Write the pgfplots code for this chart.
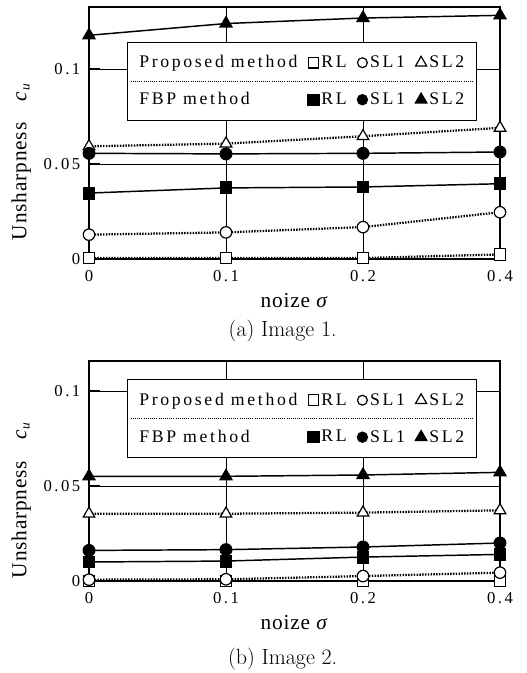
\documentclass[border=0pt]{standalone}
\usepackage{fontspec}
\usepackage{pgfplots}
\pgfplotsset{compat=1.18}
\newfontfamily\tms[LetterSpace=15]{Liberation Serif}
\newfontfamily\tmsl[LetterSpace=4]{Liberation Serif}
\newcommand\tickfont{\tms\fontsize{12.5}{15}\selectfont}
\newcommand\legfont{\tms\fontsize{13.3}{16}\selectfont}
\newcommand\labfont{\tmsl\fontsize{16}{18}\selectfont}

% x positions 0,1,2,3 stand for sigma = 0, 0.1, 0.2, 0.4
\pgfplotstableread{
x  PRL     PSL1    PSL2    FRL     FSL1    FSL2
0  0.0005  0.0128  0.0593  0.0347  0.0556  0.1177
1  0.0005  0.0140  0.0607  0.0374  0.0553  0.1239
2  0.0005  0.0168  0.0646  0.0379  0.0556  0.1268
3  0.0024  0.0246  0.0690  0.0396  0.0563  0.1282
}\dataA
\pgfplotstableread{
x  PRL     PSL1    PSL2    FRL     FSL1    FSL2
0  0.0000  0.0007  0.0354  0.0100  0.0161  0.0551
1  0.0000  0.0009  0.0354  0.0105  0.0165  0.0551
2  0.0000  0.0026  0.0360  0.0126  0.0179  0.0558
3  0.0000  0.0044  0.0372  0.0140  0.0200  0.0572
}\dataB

\pgfplotsset{
  myaxis/.style={
    scale only axis,
    width=308.25pt,
    xmin=0, xmax=3,
    ymin=0,
    xtick={0,1,2,3},
    xticklabels={0,0.1,0.2,0.4},
    ytick={0,0.05,0.1},
    yticklabels={0,0.05,0.1},
    /pgf/number format/assume math mode=true,
    grid=major,
    grid style={black, line width=0.6pt},
    axis line style={line width=1.3pt},
    xtick style={draw=none},
    ytick pos=left,
    ytick style={line width=1.2pt, black},
    major tick length=8pt,
    tick label style={font=\tickfont},
    xticklabel style={yshift=-5pt},
    yticklabel style={xshift=-3pt},
    label style={font=\labfont},
    xlabel={noize \textit{σ}},
    xlabel style={yshift=-2pt},
    ylabel={Unsharpness\hspace{16pt}\textit{c}\raisebox{-0.35ex}{\fontsize{10}{11}\selectfont\textit{u}}},
    clip=false,
    legend columns=4,
    legend cell align=left,
    legend style={font=\legfont, draw=black, line width=0.7pt, fill=white,
      inner xsep=7pt, inner ysep=8pt, row sep=13pt,
      /tikz/every even column/.append style={column sep=6pt}},
    every axis plot/.append style={black, line width=1.1pt},
    P/.style={densely dotted, line width=1.7pt, mark options={solid, fill=white, line width=0.9pt}},
    F/.style={solid, mark options={solid, fill=black}},
    mSq/.style={mark=square*, mark size=4.3pt},
    mCi/.style={mark=*, mark size=4.3pt},
    mTr/.style={mark=triangle*, mark size=5pt},
    lo/.style={only marks, mark options={fill=white, line width=0.9pt},
      legend image code/.code={\draw[##1] plot coordinates {(0.15cm,0cm)};}},
    lf/.style={only marks, mark options={fill=black},
      legend image code/.code={\draw[##1] plot coordinates {(0.15cm,0cm)};}},
  },
}

\begin{document}
\begin{tikzpicture}
\useasboundingbox (0pt,0pt) rectangle (394.5pt,-504.75pt);

% ---------------- (a) ----------------
\begin{axis}[myaxis,
  at={(66.75pt,-194.25pt)}, anchor=south west,
  height=189pt, ymax=0.1326,
  ylabel style={at={(axis description cs:-0.165,0.385)}, anchor=center},
  legend style={at={(axis description cs:0.092,0.862)}, anchor=north west, name=legA},
]
\addplot[P, mSq, forget plot] table[x=x,y=PRL]{\dataA};
\addplot[P, mCi, forget plot] table[x=x,y=PSL1]{\dataA};
\addplot[P, mTr, forget plot] table[x=x,y=PSL2]{\dataA};
\addplot[F, mSq, forget plot] table[x=x,y=FRL]{\dataA};
\addplot[F, mCi, forget plot] table[x=x,y=FSL1]{\dataA};
\addplot[F, mTr, forget plot] table[x=x,y=FSL2]{\dataA};
\addlegendimage{empty legend}\addlegendentry{Proposed method}
\addlegendimage{lo, mark=square*, mark size=4pt}\addlegendentry{RL}
\addlegendimage{lo, mark=*, mark size=3.7pt}\addlegendentry{SL1}
\addlegendimage{lo, mark=triangle*, mark size=4.8pt}\addlegendentry{SL2}
\addlegendimage{empty legend}\addlegendentry{FBP method}
\addlegendimage{lf, mark=square*, mark size=4pt}\addlegendentry{RL}
\addlegendimage{lf, mark=*, mark size=3.7pt}\addlegendentry{SL1}
\addlegendimage{lf, mark=triangle*, mark size=4.8pt}\addlegendentry{SL2}
\end{axis}
\draw[densely dotted, line width=0.6pt] ([xshift=3pt]legA.west) -- ([xshift=-3pt]legA.east);
\node[font=\fontsize{16.5}{19}\selectfont] at (212pt,-248pt) {(a) Image 1.};

% ---------------- (b) ----------------
\begin{axis}[myaxis,
  at={(66.75pt,-435.75pt)}, anchor=south west,
  height=165pt, ymax=0.1158,
  ylabel style={at={(axis description cs:-0.165,0.368)}, anchor=center},
  legend style={at={(axis description cs:0.092,0.917)}, anchor=north west, name=legB},
]
\addplot[P, mSq, forget plot] table[x=x,y=PRL]{\dataB};
\addplot[P, mCi, forget plot] table[x=x,y=PSL1]{\dataB};
\addplot[P, mTr, forget plot] table[x=x,y=PSL2]{\dataB};
\addplot[F, mSq, forget plot] table[x=x,y=FRL]{\dataB};
\addplot[F, mCi, forget plot] table[x=x,y=FSL1]{\dataB};
\addplot[F, mTr, forget plot] table[x=x,y=FSL2]{\dataB};
\addlegendimage{empty legend}\addlegendentry{Proposed method}
\addlegendimage{lo, mark=square*, mark size=4pt}\addlegendentry{RL}
\addlegendimage{lo, mark=*, mark size=3.7pt}\addlegendentry{SL1}
\addlegendimage{lo, mark=triangle*, mark size=4.8pt}\addlegendentry{SL2}
\addlegendimage{empty legend}\addlegendentry{FBP method}
\addlegendimage{lf, mark=square*, mark size=4pt}\addlegendentry{RL}
\addlegendimage{lf, mark=*, mark size=3.7pt}\addlegendentry{SL1}
\addlegendimage{lf, mark=triangle*, mark size=4.8pt}\addlegendentry{SL2}
\end{axis}
\draw[densely dotted, line width=0.6pt] ([xshift=3pt]legB.west) -- ([xshift=-3pt]legB.east);
\node[font=\fontsize{16.5}{19}\selectfont] at (212pt,-494pt) {(b) Image 2.};
\end{tikzpicture}
\end{document}
